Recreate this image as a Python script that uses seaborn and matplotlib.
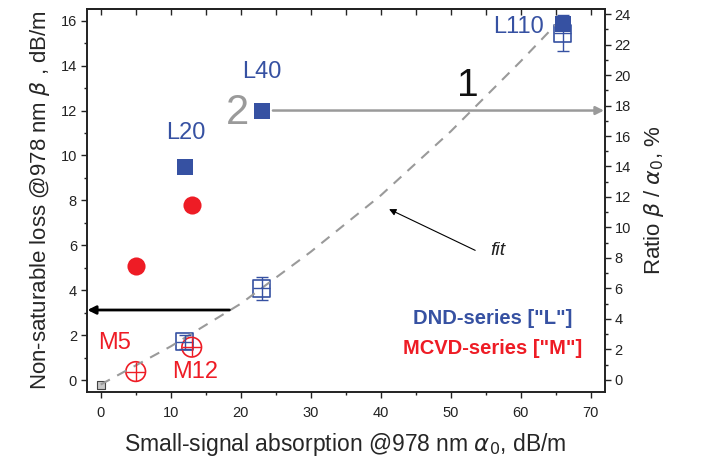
import seaborn as sns
import matplotlib.pyplot as plt
from matplotlib.ticker import MultipleLocator

BLUE = "#3651a2"
RED = "#ee1c25"
GREY = "#9a9a9a"

# small-signal absorption alpha0, dB/m
l_alpha = [12, 23, 66]
m_alpha = [5, 13]
# non-saturable loss beta, dB/m (left axis, filled markers)
l_beta = [9.5, 12.0, 15.85]
m_beta = [5.1, 7.8]
# ratio beta/alpha0, % (right axis, open markers)
l_ratio = [2.5, 6.0, 22.75]
l_ratio_err = [0.45, 0.75, 1.2]
m_ratio = [0.55, 2.15]
# reference point at origin
zero_alpha = [0]
zero_ratio = [-0.3]
# dashed fit curve
fit_alpha = [0, 10, 20, 30, 40, 50, 60, 65]
fit_ratio = [-0.3, 2.2, 5.0, 8.4, 12.1, 16.3, 20.9, 23.3]

sns.set_style("ticks")
plt.rcParams["font.family"] = ["Liberation Sans", "DejaVu Sans"]
plt.rcParams["xtick.labelsize"] = 10.5
plt.rcParams["ytick.labelsize"] = 10.5

fig = plt.figure(figsize=(7.02, 4.66), dpi=100)
ax = fig.add_axes([0.1235, 0.1588, 0.7379, 0.8219])
ax2 = ax.twinx()
ax.set_zorder(ax2.get_zorder() + 1)
ax.patch.set_visible(False)

# right axis: fit + open markers
sns.lineplot(x=fit_alpha, y=fit_ratio, ax=ax2, color=GREY, lw=1.5,
             linestyle=(0, (5, 4)), legend=False)
ax2.errorbar(l_alpha, l_ratio, yerr=l_ratio_err, fmt="none", ecolor=BLUE,
             elinewidth=1, capsize=4)
ax2.errorbar(l_alpha, l_ratio, xerr=1.2, fmt="none", ecolor=BLUE, elinewidth=1)
sns.scatterplot(x=l_alpha, y=l_ratio, ax=ax2, marker="s", s=150,
                facecolor="none", edgecolor=BLUE, linewidth=1.2)
ax2.errorbar(m_alpha, m_ratio, xerr=1.4, yerr=0.6, fmt="none", ecolor=RED,
             elinewidth=1)
sns.scatterplot(x=m_alpha, y=m_ratio, ax=ax2, marker="o", s=200,
                facecolor="none", edgecolor=RED, linewidth=1.2)
sns.scatterplot(x=zero_alpha, y=zero_ratio, ax=ax2, marker="s", s=30,
                color="#c8c8c8", edgecolor="#444444", linewidth=0.8)

# left axis: filled markers
sns.scatterplot(x=l_alpha, y=l_beta, ax=ax, marker="s", s=135,
                color=BLUE, edgecolor=BLUE, linewidth=0)
sns.scatterplot(x=m_alpha, y=m_beta, ax=ax, marker="o", s=170,
                color=RED, edgecolor=RED, linewidth=0)

ax.set_xlim(-2, 72)
ax.set_ylim(-0.53, 16.52)
ax2.set_ylim(-0.79, 24.33)

ax.xaxis.set_major_locator(MultipleLocator(10))
ax.xaxis.set_minor_locator(MultipleLocator(5))
ax.yaxis.set_major_locator(MultipleLocator(2))
ax.yaxis.set_minor_locator(MultipleLocator(1))
ax2.yaxis.set_major_locator(MultipleLocator(2))
ax2.yaxis.set_minor_locator(MultipleLocator(1))
for a in (ax, ax2):
    a.tick_params(which="major", length=4, width=1, color="#222222",
                  labelcolor="#222222", pad=3)
    a.tick_params(which="minor", length=2.5, width=1, color="#222222")
    for sp in a.spines.values():
        sp.set_visible(True)
        sp.set_linewidth(1.2)
        sp.set_color("#222222")
ax.tick_params(axis="x", which="major", pad=6)

top = ax.secondary_xaxis("top")
top.xaxis.set_major_locator(MultipleLocator(5))
top.tick_params(direction="in", length=4, width=1, labeltop=False)
top.spines["top"].set_linewidth(1.2)

ax.set_xlabel(r"Small-signal absorption @978 nm $\alpha_0$, dB/m",
              fontsize=16.5, labelpad=8)
ax.set_ylabel(r"Non-saturable loss @978 nm $\beta$ , dB/m", fontsize=16,
              labelpad=6)
ax2.set_ylabel(r"Ratio $\beta$ / $\alpha_0$, %", fontsize=16, labelpad=8)

# arrows
ax.annotate("", xy=(71.9, 12.0), xytext=(24.6, 12.0),
            arrowprops=dict(arrowstyle="-|>", color=GREY, lw=1.8,
                            mutation_scale=12, shrinkA=0, shrinkB=0))
ax.annotate("", xy=(-1.9, 3.12), xytext=(18.4, 3.12),
            arrowprops=dict(arrowstyle="-|>", color="black", lw=2,
                            mutation_scale=12, shrinkA=0, shrinkB=0))
ax2.annotate("", xy=(41.2, 11.2), xytext=(53.5, 8.5),
             arrowprops=dict(arrowstyle="-|>", color="black", lw=0.8,
                             mutation_scale=10, shrinkA=0, shrinkB=0))
ax2.text(56.8, 8.5, "fit", fontsize=14, style="italic", ha="center",
         va="center", color="#222222")

# labels
ax.text(63.3, 15.7, "L110", color=BLUE, fontsize=17, ha="right", va="center")
ax.text(23, 13.7, "L40", color=BLUE, fontsize=17, ha="center", va="center")
ax.text(12.2, 11.0, "L20", color=BLUE, fontsize=17, ha="center", va="center")
ax.text(19.5, 11.9, "2", color=GREY, fontsize=30, ha="center", va="center")
ax.text(52.5, 13.1, "1", color="#111111", fontsize=28, ha="center", va="center")
ax.text(2.0, 1.65, "M5", color=RED, fontsize=17, ha="center", va="center")
ax.text(13.5, 0.36, "M12", color=RED, fontsize=17, ha="center", va="center")
ax.text(56, 2.76, 'DND-series ["L"]', color=BLUE, fontsize=14.5,
        fontweight="bold", ha="center", va="center")
ax.text(56, 1.42, 'MCVD-series ["M"]', color=RED, fontsize=14.5,
        fontweight="bold", ha="center", va="center")

fig.savefig("out.png", dpi=100)
